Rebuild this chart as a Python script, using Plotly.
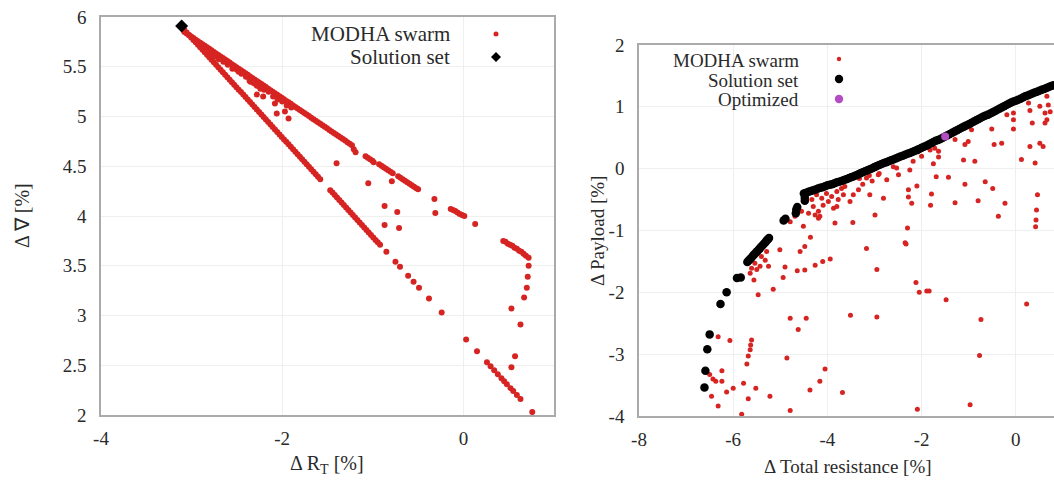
import plotly.graph_objects as go

# ---------------- Left panel data ----------------
# lower branch
left_lower_x = [
    -3.080, -3.055, -3.030, -3.005, -2.980, -2.955, -2.930, -2.905, -2.880, -2.855, -2.830, -2.805,
    -2.780, -2.755, -2.730, -2.705, -2.680, -2.655, -2.630, -2.605, -2.580, -2.555, -2.530, -2.505,
    -2.480, -2.455, -2.430, -2.405, -2.380, -2.355, -2.330, -2.305, -2.280, -2.255, -2.230, -2.205,
    -2.180, -2.155, -2.130, -2.105, -2.080, -2.055, -2.030, -2.005, -1.980, -1.955, -1.930, -1.905,
    -1.880, -1.855, -1.830, -1.805, -1.780, -1.755, -1.730, -1.705, -1.680, -1.655, -1.630, -1.605,
    -1.580,
    -1.470, -1.445, -1.420, -1.395, -1.370, -1.345, -1.320, -1.295, -1.270, -1.245, -1.220, -1.195,
    -1.170, -1.145, -1.120, -1.095, -1.070, -1.045, -1.020, -0.995, -0.970, -0.945, -0.920,
    -0.85, -0.75, -0.70, -0.61, -0.55, -0.49, -0.38, -0.24,
    0.03, 0.15, 0.26, 0.30, 0.34, 0.38, 0.42, 0.45, 0.48, 0.52, 0.55, 0.59, 0.63, 0.76,
]
left_lower_y = [
    5.870, 5.845, 5.820, 5.795, 5.770, 5.745, 5.720, 5.695, 5.670, 5.645, 5.620, 5.595,
    5.570, 5.545, 5.520, 5.495, 5.470, 5.445, 5.420, 5.395, 5.370, 5.345, 5.320, 5.295,
    5.270, 5.245, 5.220, 5.195, 5.170, 5.145, 5.120, 5.095, 5.070, 5.045, 5.020, 4.995,
    4.970, 4.945, 4.920, 4.895, 4.870, 4.845, 4.820, 4.795, 4.770, 4.745, 4.720, 4.695,
    4.670, 4.645, 4.620, 4.595, 4.570, 4.545, 4.520, 4.495, 4.470, 4.445, 4.420, 4.395,
    4.370,
    4.260, 4.235, 4.210, 4.185, 4.160, 4.135, 4.110, 4.085, 4.060, 4.035, 4.010, 3.985,
    3.960, 3.935, 3.910, 3.885, 3.860, 3.835, 3.810, 3.785, 3.760, 3.735, 3.710,
    3.64, 3.54, 3.49, 3.40, 3.34, 3.28, 3.17, 3.03,
    2.76, 2.64, 2.53, 2.49, 2.45, 2.41, 2.37, 2.34, 2.31, 2.27, 2.24, 2.20, 2.16, 2.03,
]
# upper branch
left_upper_x = [
    -3.080, -3.055, -3.030, -3.005, -2.980, -2.955, -2.930, -2.905, -2.880, -2.855, -2.830, -2.805,
    -2.780, -2.755, -2.730, -2.705, -2.680, -2.655, -2.630, -2.605, -2.580, -2.555, -2.530, -2.505,
    -2.480, -2.455, -2.430, -2.405, -2.380, -2.355, -2.330, -2.305, -2.280, -2.255, -2.230, -2.205,
    -2.180, -2.155, -2.130, -2.105, -2.080, -2.055, -2.030, -2.005, -1.980, -1.955, -1.930, -1.905,
    -1.880, -1.855, -1.830, -1.805, -1.780, -1.755, -1.730, -1.705, -1.680, -1.655, -1.630, -1.605,
    -1.580, -1.555, -1.530, -1.505, -1.480, -1.455, -1.430, -1.405, -1.380, -1.355, -1.330, -1.305,
    -1.280, -1.255, -1.230, -1.210, -1.190, -1.080, -1.055, -1.030, -1.005, -0.990,
    -0.930, -0.905, -0.880, -0.855, -0.830, -0.805, -0.780,
    -0.720, -0.695, -0.670, -0.645, -0.620, -0.595, -0.570, -0.545, -0.520, -0.500,
    -0.32, -0.140, -0.115, -0.090, -0.065, -0.040, -0.015, 0.010, 0.13,
    0.440, 0.465, 0.490, 0.515, 0.540, 0.565, 0.590, 0.615, 0.640, 0.665, 0.690,
]
left_upper_y = [
    5.849, 5.834, 5.819, 5.803, 5.788, 5.772, 5.757, 5.742, 5.726, 5.711, 5.696, 5.680,
    5.665, 5.649, 5.634, 5.619, 5.603, 5.588, 5.573, 5.557, 5.542, 5.526, 5.511, 5.496,
    5.480, 5.465, 5.450, 5.434, 5.419, 5.403, 5.388, 5.373, 5.357, 5.342, 5.327, 5.311,
    5.296, 5.280, 5.265, 5.250, 5.234, 5.219, 5.204, 5.188, 5.173, 5.157, 5.142, 5.127,
    5.111, 5.096, 5.081, 5.065, 5.050, 5.034, 5.019, 5.004, 4.988, 4.973, 4.958, 4.942,
    4.927, 4.911, 4.896, 4.881, 4.865, 4.850, 4.835, 4.819, 4.804, 4.788, 4.773, 4.758,
    4.742, 4.727, 4.712, 4.670, 4.640, 4.600, 4.585, 4.570, 4.555, 4.540,
    4.520, 4.505, 4.490, 4.475, 4.460, 4.445, 4.430,
    4.400, 4.385, 4.370, 4.355, 4.340, 4.325, 4.310, 4.295, 4.280, 4.270,
    4.17, 4.070, 4.060, 4.050, 4.035, 4.020, 4.010, 4.000, 3.92,
    3.750, 3.740, 3.720, 3.710, 3.700, 3.680, 3.670, 3.650, 3.640, 3.620, 3.600,
]
# right-hand cluster, fill near the tip, ragged underside of the upper band, scattered points
left_other_x = [
    0.72, 0.72, 0.71, 0.70, 0.67, 0.53, 0.63, 0.57, 0.53,
    -2.95, -2.92, -2.89, -2.86, -2.83, -2.80, -2.78, -2.90, -2.84,
    -2.75, -2.70, -2.65, -2.60, -2.55, -2.50, -2.45, -2.40, -2.35, -2.30, -2.25, -2.20, -2.15,
    -2.10, -2.05, -2.00, -1.95, -1.90,
    -2.61, -2.48, -2.38, -2.36, -2.32, -2.28, -2.24,
    -2.28, -2.21, -2.08, -2.06, -1.97, -1.93, -1.40, -1.05, -0.79, -0.87, -0.73, -0.87, -0.71, -0.31,
]
left_other_y = [
    3.58, 3.50, 3.39, 3.28, 3.18, 3.07, 2.91, 2.59, 2.48,
    5.755, 5.73, 5.70, 5.68, 5.655, 5.63, 5.61, 5.72, 5.66,
    5.60, 5.575, 5.55, 5.52, 5.48, 5.47, 5.43, 5.40, 5.35, 5.33, 5.30, 5.27, 5.25,
    5.20, 5.17, 5.15, 5.11, 5.09,
    5.54, 5.45, 5.40, 5.36, 5.34, 5.31, 5.28,
    5.22, 5.20, 5.13, 5.03, 5.05, 4.98, 4.53, 4.33, 4.35, 4.10, 4.04, 3.91, 3.88, 4.03,
]
left_solution_x = [-3.11]
left_solution_y = [5.91]

left_xticks = [-4, -2, 0]
left_xtick_text = ["-4", "-2", "0"]
left_yticks = [2, 2.5, 3, 3.5, 4, 4.5, 5, 5.5, 6]
left_ytick_text = ["2", "2.5", "3", "3.5", "4", "4.5", "5", "5.5", "6"]

# ---------------- Right panel data ----------------
right_swarm_x = [
    -4.33, -4.23, -4.12, -4.02, -3.91, -3.80, -3.70, -4.30, -4.19, -4.09, -3.98, -3.87, -3.77, -3.66,
    -4.40, -4.26, -4.16, -4.69, -4.79, -4.55, -4.65, -3.63, -3.45, -3.34, -3.10, -3.52, -3.80, -2.99,
    -3.84, -3.46, -4.19, -4.51, -4.36, -4.48, -4.58, -5.01, -4.90, -4.64, -4.48, -4.26, -4.10, -3.94,
    -3.17, -2.95, -4.94, -5.15, -5.47, -5.56, -5.64, -5.50, -5.32, -5.29, -5.40, -5.54, -5.61, -5.43,
    -5.25, -4.79, -4.45, -4.62, -3.51, -2.95, -6.32, -6.07, -5.61, -5.63, -5.64, -5.68, -5.71, -4.86,
    -6.24, -6.37, -6.24, -6.00, -5.78, -5.52, -6.46, -6.14, -5.68, -5.22, -6.32, -4.79, -5.82, -4.16,
    -4.05, -4.37, -3.68, -6.50, -6.43,
    -3.32, -3.11, -2.90, -3.25, -3.05,
    -3.17, -2.92, -2.74, -2.60, -2.53, -2.49, -2.25, -2.18, -2.00, -1.82, -1.72, -1.64, -1.64, -1.75,
    -1.69, -1.43, -1.29, -1.08, -1.01, -0.94, -1.11, -0.87, -0.65, -0.49, -1.08, -1.29, -0.80, -0.23,
    -0.37, -0.51, -0.46, -0.30, -0.19, -0.05, -0.05, -0.05, 0.12, 0.30, 0.35, 0.41, 0.51, 0.58,
    0.27, 0.30, 0.51, 0.62, 0.66, 0.69, 0.73, 0.62, 0.66, 0.46, 0.44, 0.43, 0.42,
    -2.28, -2.28, -2.21, -2.10, -1.79, -1.81, -2.81, -2.30, -2.35, -2.33, -2.12, -2.05, -1.89, -1.84,
    -1.48, -0.74, -0.77, -0.97, -2.09, 0.23,
]
right_swarm_y = [
    -0.50, -0.42, -0.48, -0.40, -0.45, -0.37, -0.32, -0.61, -0.69, -0.59, -0.53, -0.64, -0.50, -0.42,
    -0.72, -0.75, -0.77, -0.77, -0.86, -0.69, -0.64, -0.29, -0.42, -0.34, -0.42, -0.53, -0.61, -0.75,
    -0.88, -0.87, -0.80, -0.93, -1.11, -1.26, -1.34, -1.31, -1.59, -1.65, -1.64, -1.56, -1.50, -1.46,
    -1.29, -1.63, -1.76, -1.95, -2.04, -1.80, -1.69, -1.63, -1.48, -1.34, -1.42, -1.53, -1.61, -1.58,
    -1.58, -2.42, -2.42, -2.60, -2.37, -2.40, -2.72, -2.78, -2.77, -2.85, -2.93, -3.03, -3.16, -3.06,
    -3.27, -3.44, -3.44, -3.55, -3.47, -3.55, -3.68, -3.61, -3.72, -3.68, -3.84, -3.91, -3.97, -3.44,
    -3.24, -3.58, -3.62, -3.33, -3.40,
    -0.16, -0.11, -0.08, -0.25, -0.20,
    -0.15, -0.10, -0.18, 0.03, 0.01, -0.10, -0.02, 0.12, 0.20, 0.30, 0.33, 0.28, 0.19, 0.08,
    -0.13, -0.14, 0.47, 0.39, 0.44, 0.63, 0.14, 0.12, -0.21, -0.32, -0.25, -0.55, -0.52, -0.56,
    -0.77, 0.64, 0.39, 0.41, 0.87, 0.90, 0.79, 0.64, 0.15, 0.36, 0.74, 0.09, 0.41, 0.36,
    1.06, 0.94, 1.01, 0.90, 1.17, 1.03, 0.92, 0.74, 0.79, -0.42, -0.67, -0.83, -0.94,
    -0.34, -0.46, -0.56, -0.28, -0.41, -0.59, -0.48, -0.96, -1.20, -1.22, -1.84, -2.00, -1.98, -1.98,
    -2.12, -2.44, -3.02, -3.82, -3.89, -2.19,
]
right_solution_x = [
    -4.50, -4.45, -4.40, -4.35, -4.30, -4.25, -4.20, -4.15, -4.10, -4.05, -4.00, -3.95, -3.90, -3.85,
    -3.80, -3.75, -3.70, -3.65, -3.60, -3.55, -3.50, -3.45, -3.40, -3.35, -3.30, -3.25, -3.20, -3.15,
    -3.10, -3.05, -3.00, -2.95, -2.90, -2.85, -2.80, -2.75, -2.70, -2.65, -2.60, -2.55, -2.50, -2.45,
    -2.40, -2.35, -2.30, -2.25, -2.20, -2.15, -2.10, -2.05, -2.00, -1.95, -1.90, -1.85, -1.80, -1.75,
    -1.70, -1.65, -1.60, -1.55, -1.50, -1.45, -1.40, -1.35, -1.30, -1.25, -1.20, -1.15, -1.10, -1.05,
    -1.00, -0.95, -0.90, -0.85, -0.80, -0.75, -0.70, -0.65, -0.60, -0.55, -0.50, -0.45, -0.40, -0.35,
    -0.30, -0.25, -0.20, -0.15, -0.10, -0.05, 0.00, 0.05, 0.10, 0.15, 0.20, 0.25, 0.30, 0.35,
    0.40, 0.45, 0.50, 0.55, 0.60, 0.65, 0.70, 0.75, 0.80,
    -4.48, -4.48, -4.64, -4.66, -4.67, -4.89, -4.93,
    -5.70, -5.67, -5.64, -5.61, -5.58, -5.55, -5.52, -5.49, -5.46, -5.43, -5.40, -5.37, -5.34,
    -5.31, -5.29, -5.26, -5.24,
    -5.84, -5.92, -6.14, -6.27, -6.50, -6.55, -6.59, -6.61,
]
right_solution_y = [
    -0.400, -0.388, -0.375, -0.363, -0.350, -0.335, -0.320, -0.310, -0.300, -0.285, -0.270, -0.260,
    -0.250, -0.235, -0.220, -0.210, -0.200, -0.185, -0.170, -0.155, -0.140, -0.125, -0.110, -0.093,
    -0.075, -0.058, -0.040, -0.025, -0.010, 0.008, 0.025, 0.043, 0.060, 0.075, 0.090, 0.105,
    0.120, 0.135, 0.150, 0.165, 0.180, 0.195, 0.210, 0.225, 0.240, 0.255, 0.270, 0.285,
    0.300, 0.320, 0.340, 0.355, 0.370, 0.390, 0.410, 0.430, 0.450, 0.465, 0.480, 0.500,
    0.520, 0.540, 0.560, 0.580, 0.600, 0.620, 0.640, 0.660, 0.680, 0.700, 0.720, 0.740,
    0.760, 0.780, 0.800, 0.820, 0.840, 0.855, 0.870, 0.890, 0.910, 0.930, 0.950, 0.970,
    0.990, 1.010, 1.030, 1.050, 1.070, 1.085, 1.100, 1.115, 1.130, 1.150, 1.170, 1.185,
    1.200, 1.215, 1.230, 1.245, 1.260, 1.275, 1.290, 1.305, 1.320, 1.335, 1.350,
    -0.47, -0.52, -0.62, -0.66, -0.72, -0.81, -0.84,
    -1.51, -1.485, -1.46, -1.435, -1.41, -1.385, -1.36, -1.335, -1.31, -1.285, -1.26, -1.235, -1.21,
    -1.185, -1.16, -1.14, -1.12,
    -1.76, -1.77, -2.00, -2.19, -2.68, -2.92, -3.27, -3.54,
]
right_optimized_x = [-1.50]
right_optimized_y = [0.52]

right_xticks = [-8, -6, -4, -2, 0]
right_xtick_text = ["-8", "-6", "-4", "-2", "0"]
right_yticks = [-4, -3, -2, -1, 0, 1, 2]
right_ytick_text = ["-4", "-3", "-2", "-1", "0", "1", "2"]

legend_left = ["MODHA swarm", "Solution set"]
legend_right = ["MODHA swarm", "Solution set", "Optimized"]

# ---------------- Styling ----------------
W, H = 1054, 486
RED = "#d62422"
BLACK = "#000000"
MAGENTA = "#b44cc4"
FONT = "Liberation Serif, Times New Roman, serif"
TXT = "#2a2a2a"
AXLINE = "#aaaaaa"
GRID = "#efefef"


def px(x):
    return x / W


def py(y):
    return 1 - y / H


fig = go.Figure()
for xs, ys in [(left_lower_x, left_lower_y), (left_upper_x, left_upper_y), (left_other_x, left_other_y)]:
    fig.add_trace(go.Scatter(x=xs, y=ys, mode="markers", xaxis="x", yaxis="y",
                             marker=dict(color=RED, size=6, line=dict(width=0)), showlegend=False))
fig.add_trace(go.Scatter(x=left_solution_x, y=left_solution_y, mode="markers", xaxis="x", yaxis="y",
                         marker=dict(color=BLACK, size=10, symbol="diamond", line=dict(width=0)),
                         showlegend=False, cliponaxis=False))
fig.add_trace(go.Scatter(x=right_swarm_x, y=right_swarm_y, mode="markers", xaxis="x2", yaxis="y2",
                         marker=dict(color=RED, size=5, line=dict(width=0)), showlegend=False))
fig.add_trace(go.Scatter(x=right_solution_x, y=right_solution_y, mode="markers", xaxis="x2", yaxis="y2",
                         marker=dict(color=BLACK, size=8.5, line=dict(width=0)), showlegend=False))
fig.add_trace(go.Scatter(x=right_optimized_x, y=right_optimized_y, mode="markers", xaxis="x2", yaxis="y2",
                         marker=dict(color=MAGENTA, size=8, line=dict(width=0)), showlegend=False))

tickfont = dict(family=FONT, size=19, color=TXT)
common = dict(showline=True, linecolor=AXLINE, linewidth=1.6, showgrid=True, gridcolor=GRID,
              gridwidth=1, zeroline=False, ticks="", tickfont=tickfont, tickmode="array",
              automargin=False)

fig.update_layout(
    template="none",
    width=W, height=H, margin=dict(l=0, r=0, t=0, b=0, pad=0), autosize=False,
    font=dict(family=FONT, color=TXT),
    paper_bgcolor="white", plot_bgcolor="white", showlegend=False,
    xaxis=dict(domain=[px(101), px(554)], range=[-4, 1], anchor="y", mirror=True,
               tickvals=left_xticks, ticktext=left_xtick_text, ticklabelstandoff=5, **common),
    yaxis=dict(domain=[py(415), py(17)], range=[2, 6], anchor="x", mirror=True,
               tickvals=left_yticks, ticktext=left_ytick_text, ticklabelstandoff=9, **common),
    xaxis2=dict(domain=[px(639), 1.0], range=[-8, 0.811], anchor="y2", mirror=True,
                tickvals=right_xticks, ticktext=right_xtick_text, ticklabelstandoff=5, **common),
    yaxis2=dict(domain=[py(416), py(45)], range=[-4, 2], anchor="x2", mirror=False,
                tickvals=right_yticks, ticktext=right_ytick_text, ticklabelstandoff=9, **common),
)

ann = []
ann.append(dict(text="Δ R<sub>T</sub> [%]", x=px(327), y=py(464), xref="paper", yref="paper",
                showarrow=False, font=dict(family=FONT, size=20, color=TXT), xanchor="center", yanchor="middle"))
ann.append(dict(text="Δ ∇ [%]", x=px(22), y=py(216), xref="paper", yref="paper", textangle=-90,
                showarrow=False, font=dict(family=FONT, size=20, color=TXT), xanchor="center", yanchor="middle"))
ann.append(dict(text="Δ Total resistance [%]", x=px(848), y=py(466), xref="paper", yref="paper",
                showarrow=False, font=dict(family=FONT, size=19, color=TXT), xanchor="center", yanchor="middle"))
ann.append(dict(text="Δ Payload [%]", x=px(597), y=py(231), xref="paper", yref="paper", textangle=-90,
                showarrow=False, font=dict(family=FONT, size=19, color=TXT), xanchor="center", yanchor="middle"))
for label, yy in zip(legend_left, [34, 57]):
    ann.append(dict(text=label, x=px(452), y=py(yy), xref="paper", yref="paper", showarrow=False,
                    font=dict(family=FONT, size=21, color=TXT), xanchor="right", yanchor="middle"))
for label, yy in zip(legend_right, [60, 80, 100]):
    ann.append(dict(text=label, x=px(801), y=py(yy), xref="paper", yref="paper", showarrow=False,
                    font=dict(family=FONT, size=19, color=TXT), xanchor="right", yanchor="middle"))
fig.update_layout(annotations=ann)


def dot(xp, yp, r, color):
    return dict(type="circle", xref="paper", yref="paper", xsizemode="pixel", ysizemode="pixel",
                xanchor=px(xp), yanchor=py(yp), x0=-r, x1=r, y0=-r, y1=r,
                fillcolor=color, line=dict(width=0))


def diamond(xp, yp, r, color):
    return dict(type="path", xref="paper", yref="paper", xsizemode="pixel", ysizemode="pixel",
                xanchor=px(xp), yanchor=py(yp), path=f"M 0 {r} L {r} 0 L 0 {-r} L {-r} 0 Z",
                fillcolor=color, line=dict(width=0))


fig.update_layout(shapes=[
    dot(496, 34, 2.5, RED),
    diamond(496, 57, 5, BLACK),
    dot(839, 59, 2.2, RED),
    dot(839, 79, 4.2, BLACK),
    dot(839, 99, 4.2, MAGENTA),
])

fig.write_html(
    "out.html",
    config={"responsive": False, "displayModeBar": False},
    post_script="document.documentElement.style.margin='0';document.body.style.margin='0';"
                "document.body.style.padding='0';document.body.style.overflow='hidden';",
)
